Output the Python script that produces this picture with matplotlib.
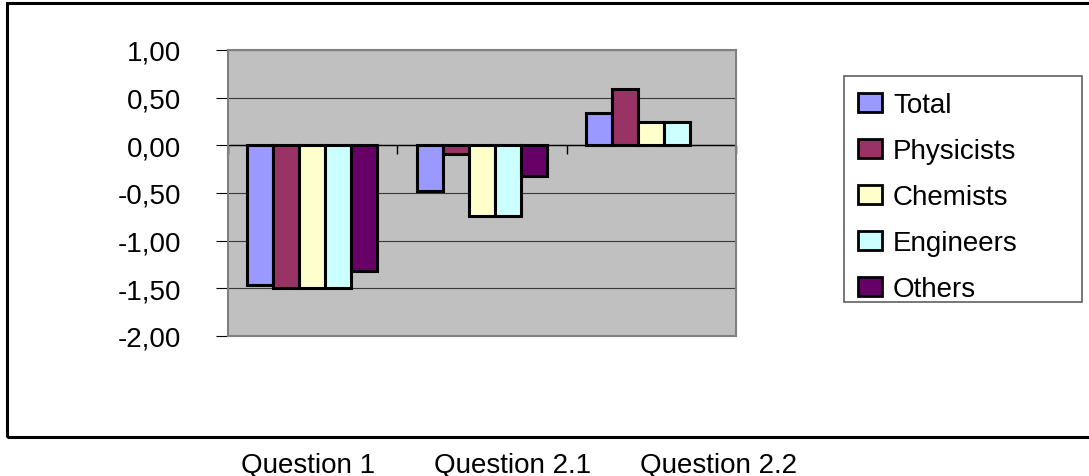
import numpy as np
import matplotlib
matplotlib.use("Agg")
import matplotlib.pyplot as plt
from matplotlib.patches import Rectangle, Patch
from matplotlib.ticker import FuncFormatter, FixedLocator

# Survey results per question, by respondent group
categories = ["Question 1", "Question 2.1", "Question 2.2"]
series_names = ["Total", "Physicists", "Chemists", "Engineers", "Others"]
total = [-1.47, -0.48, 0.34]
physicists = [-1.50, -0.09, 0.59]
chemists = [-1.50, -0.74, 0.25]
engineers = [-1.50, -0.74, 0.25]
others = [-1.32, -0.32, np.nan]
y_ticks = [1.0, 0.5, 0.0, -0.5, -1.0, -1.5, -2.0]

series_values = [total, physicists, chemists, engineers, others]
colors = ["#9999FF", "#993366", "#FFFFCC", "#CCFFFF", "#660066"]

W, H = 1089, 477
fig = plt.figure(figsize=(W / 100, H / 100), dpi=100)
plt.rcParams["font.family"] = ["Liberation Sans", "DejaVu Sans"]
FS = 20


def fx(px):
    return px / W


def fy(py):
    return 1 - py / H


# outer chart frame
fig.patches.append(Rectangle((fx(7), fy(438)), fx(1100 - 7), fy(4) - fy(438),
                             transform=fig.transFigure, fill=False,
                             edgecolor="black", linewidth=2.2, zorder=0))

ax = fig.add_axes([fx(227.5), fy(337), fx(736) - fx(227.5), fy(51) - fy(337)])
ax.set_facecolor("#C0C0C0")
for s in ax.spines.values():
    s.set_color("#808080")
    s.set_linewidth(1.5)

n_series = len(series_names)
gap = 1.5  # gap between groups, in bar widths
bw = 1.0 / (n_series + gap)
x = np.arange(len(categories))
handles = []
for i, (name, vals, col) in enumerate(zip(series_names, series_values, colors)):
    offs = (i - (n_series - 1) / 2) * bw
    ax.bar(x + offs, vals, width=bw, color=col, edgecolor="black",
           linewidth=2.2, zorder=3)
    handles.append(Patch(facecolor=col, edgecolor="black", linewidth=2.0, label=name))

ax.set_xlim(-0.5, len(categories) - 0.5)
ax.set_ylim(min(y_ticks), max(y_ticks))

# horizontal gridlines and category axis at zero
ax.yaxis.set_major_locator(FixedLocator(y_ticks))
ax.yaxis.grid(True, color="#383838", linewidth=0.8, zorder=1)
ax.set_axisbelow(True)
ax.axhline(0, color="black", linewidth=1.0, zorder=2)
bounds = np.arange(len(categories) + 1) - 0.5
ax.vlines(bounds, -0.09, 0, color="black", linewidth=1.0, zorder=2, clip_on=False)

ax.set_xticks([])
ax.yaxis.set_major_formatter(FuncFormatter(lambda v, p: f"{v:.2f}".replace(".", ",")))
ax.tick_params(axis="y", direction="out", length=8.6, width=0.8, color="black",
               pad=25, labelsize=FS, labelcolor="black")

# category names below the chart frame
label_x = [308, 513, 718]
for cx, name in zip(label_x, categories):
    fig.text(fx(cx), fy(473), name, ha="center", va="baseline", fontsize=FS)

# legend box and entries
fig.patches.append(Rectangle((fx(844), fy(303)), fx(1082) - fx(844), fy(77) - fy(303),
                             transform=fig.transFigure, fill=True, facecolor="white",
                             edgecolor="#606060", linewidth=1.2, zorder=1))
leg = fig.legend(handles=handles, loc="upper left", bbox_to_anchor=(fx(858), fy(93)),
                 frameon=False, fontsize=FS, borderpad=0, borderaxespad=0,
                 handlelength=0.86, handleheight=0.65, handletextpad=0.4,
                 labelspacing=0.72)
leg.set_zorder(2)

fig.savefig("out.png", dpi=100)
